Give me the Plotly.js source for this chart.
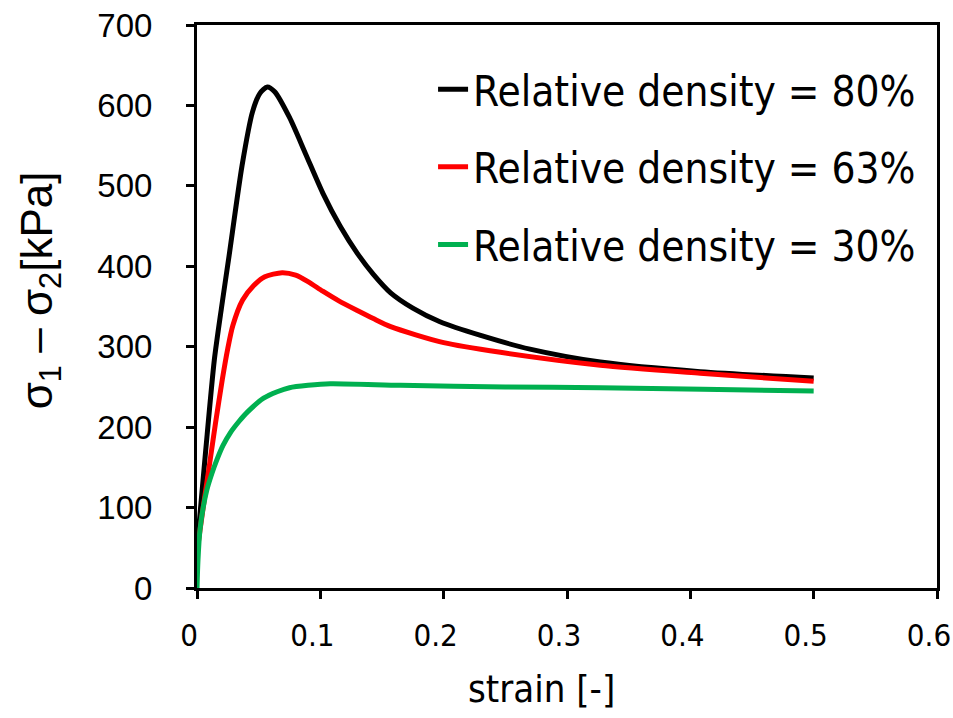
<!DOCTYPE html>
<html>
<head>
<meta charset="utf-8">
<script src="https://cdn.plot.ly/plotly-3.0.1.min.js"></script>
<style>html,body{margin:0;padding:0;background:#fff;}#chart{width:953px;height:718px;}</style>
</head>
<body>
<div id="chart"></div>
<script>
const seriesNames = ["Relative density = 80%", "Relative density = 63%", "Relative density = 30%"];

const strain80 = [0, 0.007, 0.014, 0.02, 0.026, 0.0365, 0.045, 0.051, 0.057, 0.063, 0.075, 0.088, 0.102, 0.116, 0.13, 0.143, 0.157, 0.175, 0.197, 0.23, 0.27, 0.327, 0.408, 0.5];
const stress80 = [50, 170, 283, 350, 413, 525, 592, 615, 623, 617, 585, 540, 491, 450, 416, 390, 367, 348, 331, 314, 297, 281, 269, 261];

const strain63 = [0, 0.005, 0.01, 0.015, 0.0205, 0.025, 0.029, 0.037, 0.046, 0.055, 0.069, 0.08, 0.09, 0.102, 0.115, 0.13, 0.143, 0.157, 0.2, 0.246, 0.327, 0.408, 0.5];
const stress63 = [45, 100, 152, 205, 259, 298, 326, 358, 376, 387, 392, 389, 381, 369, 357, 345, 335, 325, 305, 293, 277, 267, 257];

const strain30 = [0, 0.0008, 0.0024, 0.005, 0.008, 0.012, 0.016, 0.021, 0.027, 0.034, 0.041, 0.054, 0.065, 0.075, 0.09, 0.108, 0.165, 0.25, 0.327, 0.41, 0.5];
const stress30 = [0, 35, 72, 100, 122, 142, 159, 177, 193, 207, 219, 236, 244, 249, 252, 254, 252, 250, 249, 247, 245];

const xTicks = [0, 0.1, 0.2, 0.3, 0.4, 0.5, 0.6];
const xTickText = ["0", "0.1", "0.2", "0.3", "0.4", "0.5", "0.6"];
const yTicks = [0, 100, 200, 300, 400, 500, 600, 700];
const xTitle = "strain [-]";
const yTitle = "σ<sub>1</sub> – σ<sub>2</sub>[kPa]";

const colors = ["#000000", "#FF0000", "#00B050"];
const narrow = "'DejaVu Sans Condensed', sans-serif";
const sans = "'Liberation Sans', Arial, sans-serif";

function tr(x, y, i) {
  return {x: x, y: y, name: seriesNames[i], legendgroup: "g" + i, type: "scatter", mode: "lines",
    line: {color: colors[i], width: 5, shape: "spline", smoothing: 0.7}};
}
const data = [tr(strain80, stress80, 0), tr(strain63, stress63, 1), tr(strain30, stress30, 2)];

const layout = {
  width: 953, height: 718,
  margin: {l: 197, r: 16, t: 25, b: 130},
  paper_bgcolor: "#fff", plot_bgcolor: "#fff",
  showlegend: true,
  legend: {x: 0.319, y: 0.946, xanchor: "left", yanchor: "top", bgcolor: "rgba(0,0,0,0)",
    font: {family: narrow, size: 42, color: "#000"}, tracegroupgap: 20},
  xaxis: {range: [0, 0.6], tickvals: xTicks, ticktext: xTickText, showgrid: false, zeroline: false,
    showline: true, linecolor: "#000", linewidth: 3, mirror: true,
    ticks: "outside", ticklen: 8, tickwidth: 3, tickcolor: "#000",
    ticklabeloverflow: "allow", ticklabelstandoff: 10, ticklabelshift: -8,
    tickfont: {family: narrow, size: 31, color: "#000"}},
  yaxis: {range: [0, 700], tickvals: yTicks, showgrid: false, zeroline: false,
    showline: true, linecolor: "#000", linewidth: 3, mirror: true,
    ticks: "outside", ticklen: 8, tickwidth: 3, tickcolor: "#000",
    ticklabelstandoff: 27,
    tickfont: {family: sans, size: 33, color: "#000"}},
  annotations: [
    {text: xTitle, xref: "paper", yref: "paper", x: 0.466, y: -0.18, xanchor: "center", yanchor: "middle",
      showarrow: false, font: {family: narrow, size: 38, color: "#000"}},
    {text: yTitle, xref: "paper", yref: "paper", x: -0.212, y: 0.529, xanchor: "center", yanchor: "middle",
      textangle: -90, showarrow: false, font: {family: sans, size: 44, color: "#000"}}
  ]
};

Plotly.newPlot("chart", data, layout, {displayModeBar: false, staticPlot: true});
</script>
</body>
</html>
